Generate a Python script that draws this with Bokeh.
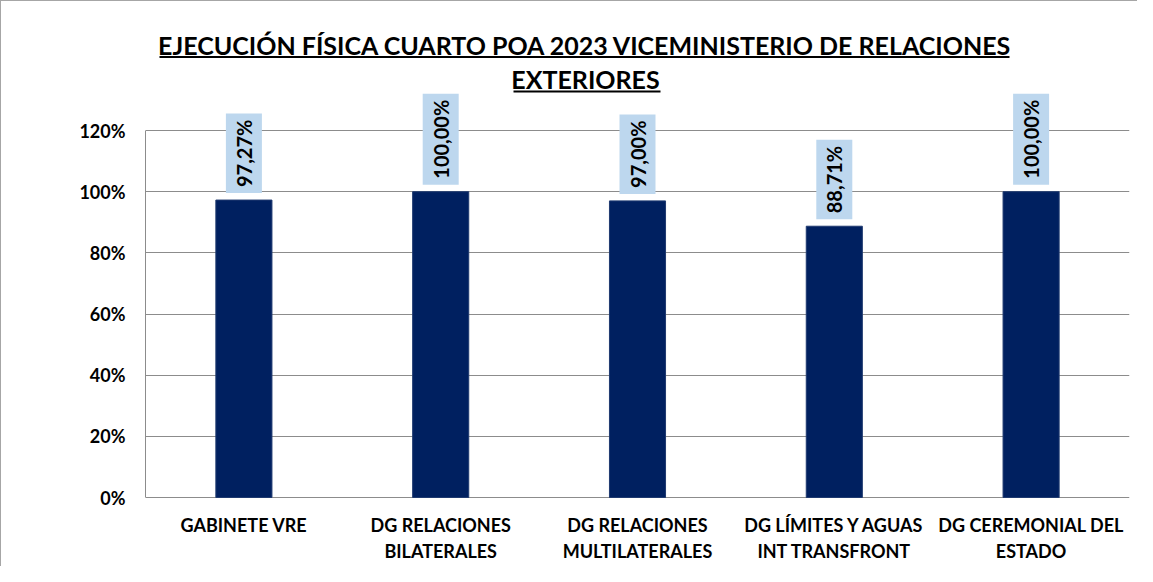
from bokeh.plotting import figure
from bokeh.models import FactorRange, Range1d, FixedTicker, Label, BoxAnnotation, ColumnDataSource
from bokeh.embed import file_html
from bokeh.resources import INLINE
from bokeh.core.properties import value
import math

# ---- data ----
categories = ["GABINETE VRE", "DG RELACIONES BILATERALES", "DG RELACIONES MULTILATERALES",
              "DG LÍMITES Y AGUAS INT TRANSFRONT", "DG CEREMONIAL DEL ESTADO"]
category_line1 = ["GABINETE VRE", "DG RELACIONES", "DG RELACIONES", "DG LÍMITES Y AGUAS", "DG CEREMONIAL DEL"]
category_line2 = ["", "BILATERALES", "MULTILATERALES", "INT TRANSFRONT", "ESTADO"]
values = [0.9727, 1.0000, 0.9700, 0.8871, 1.0000]
y_ticks = [0.0, 0.2, 0.4, 0.6, 0.8, 1.0, 1.2]
y_tick_labels = ["0%", "20%", "40%", "60%", "80%", "100%", "120%"]
title_line1 = "EJECUCIÓN FÍSICA CUARTO POA 2023 VICEMINISTERIO DE RELACIONES"
title_line2 = "EXTERIORES"

value_labels = [("%.2f%%" % (v * 100)).replace(".", ",") for v in values]

FONT = "Lato"
BAR = "#002060"
LABEL_BG = "#BDD7EE"
GRID = "#8C8C8C"

src = ColumnDataSource(dict(cat=categories, val=values, lab=value_labels,
                            l1=category_line1, l2=category_line2, zero=[0.0] * len(values)))

p = figure(width=1137, height=566, output_backend="svg", toolbar_location=None,
           x_range=FactorRange(*categories, range_padding=0),
           y_range=Range1d(-0.2289, 1.622),
           min_border_left=144, min_border_right=9, min_border_top=0, min_border_bottom=0)
p.outline_line_color = None
p.background_fill_color = "white"
p.border_fill_color = "white"
p.styles = {"border-top": "1px solid #A6A6A6", "border-left": "1px solid #A6A6A6"}

p.vbar(x="cat", top="val", width=0.285, source=src, fill_color=BAR, line_color="#1F3A70", line_width=1)

p.text(x="cat", y="val", text="lab", source=src, angle=math.pi / 2,
       text_align="left", text_baseline="middle", y_offset=-7,
       text_font=value(FONT), text_font_style="bold", text_font_size="20px", text_color="black",
       background_fill_color=LABEL_BG, padding=6)

# category labels (two lines under the baseline)
for col, off in (("l1", 27), ("l2", 53)):
    p.text(x="cat", y="zero", text=col, source=src, y_offset=off,
           text_align="center", text_baseline="middle",
           text_font=value(FONT), text_font_style="bold", text_font_size="18px", text_color="black")

# axes
p.xaxis.visible = False
p.yaxis.ticker = FixedTicker(ticks=y_ticks)
p.yaxis.major_label_overrides = {t: l for t, l in zip(y_ticks, y_tick_labels)}
p.yaxis.bounds = (0, 1.2)
p.yaxis.axis_line_color = GRID
p.yaxis.major_tick_line_color = None
p.yaxis.minor_tick_line_color = None
p.yaxis.major_label_text_font = FONT
p.yaxis.major_label_text_font_style = "bold"
p.yaxis.major_label_text_font_size = "18px"
p.yaxis.major_label_text_color = "black"
p.yaxis.major_label_standoff = 14
p.ygrid.ticker = FixedTicker(ticks=y_ticks)
p.ygrid.grid_line_color = GRID
p.xgrid.grid_line_color = None

# title (screen units, relative to frame)
for txt, yy in ((title_line1, 523), (title_line2, 489)):
    p.add_layout(Label(x=440, y=yy, x_units="screen", y_units="screen", text=txt,
                       text_align="center", text_baseline="alphabetic",
                       text_font=FONT, text_font_style="bold", text_font_size="25px", text_color="black"))
for l, r, b in ((14, 864, 509.5), (368, 515, 475)):
    p.add_layout(BoxAnnotation(left=l, right=r, bottom=b, top=b + 2,
                               left_units="screen", right_units="screen",
                               bottom_units="screen", top_units="screen",
                               fill_color="black", fill_alpha=1, line_color=None))

open("out.html", "w").write(file_html(p, INLINE))
